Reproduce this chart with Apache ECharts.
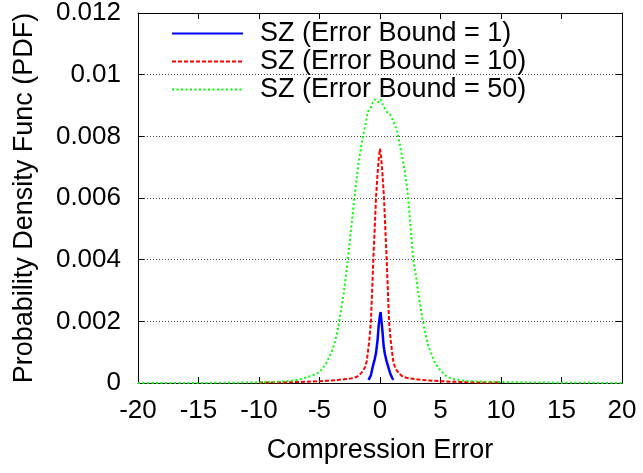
<!DOCTYPE html>
<html>
<head>
<meta charset="utf-8">
<script src="https://cdn.jsdelivr.net/npm/echarts@6/dist/echarts.min.js"></script>
<style>html,body{margin:0;padding:0;background:#fff}#c{width:643px;height:473px}</style>
</head>
<body>
<div id="c"></div>
<script>
var seriesNames = ['SZ (Error Bound = 1)', 'SZ (Error Bound = 10)', 'SZ (Error Bound = 50)'];
var xTickLabels = ['-20','-15','-10','-5','0','5','10','15','20'];
var yTickLabels = ['0','0.002','0.004','0.006','0.008','0.01','0.012'];

var blueX = [-0.95,-0.85,-0.75,-0.6,-0.45,-0.33,-0.2,-0.1,0,0.05,0.1,0.2,0.3,0.4,0.55,0.7,0.85,1.0,1.1];
var blueY = [0.0001,0.00016,0.00025,0.00053,0.00075,0.00097,0.0014,0.0019,0.0022,0.0023,0.0021,0.0017,0.0012,0.00095,0.0007,0.0005,0.0003,0.00017,0.0001];

var redX = [-10,-9,-8,-7,-6,-5,-4,-3.5,-3,-2.4,-1.9,-1.6,-1.4,-1.25,-1.1,-1.0,-0.88,-0.75,-0.65,-0.55,-0.44,-0.33,-0.2,-0.1,0,0.1,0.2,0.33,0.44,0.55,0.65,0.75,0.88,1.0,1.1,1.25,1.4,1.6,1.9,2.4,3,3.5,4,5,6,7,8,9,10];
var redY = [0.00001,0.00002,0.00002,0.00003,0.00004,0.00006,0.00008,0.0001,0.00012,0.00015,0.0002,0.0003,0.0004,0.0005,0.0007,0.001,0.0014,0.002,0.003,0.004,0.005,0.006,0.0068,0.0073,0.0076,0.0073,0.0068,0.006,0.005,0.004,0.003,0.002,0.0014,0.001,0.0007,0.0005,0.0004,0.0003,0.0002,0.00015,0.00012,0.0001,0.00008,0.00006,0.00004,0.00003,0.00002,0.00002,0.00001];

var greenX = [-20,-15,-12,-10,-9,-8,-7,-6.5,-6,-5.5,-5,-4.5,-4,-3.75,-3.5,-3.25,-3,-2.75,-2.5,-2.25,-2,-1.75,-1.5,-1.25,-1,-0.8,-0.6,-0.4,-0.15,0.05,0.25,0.55,0.85,1.1,1.4,1.6,1.8,2,2.25,2.5,2.75,3,3.25,3.5,3.75,4,4.5,5,5.5,6,7,8,9,10,12,15,20];
var greenY = [0,0,0.00001,0.00002,0.00003,0.00005,0.00009,0.00013,0.00019,0.00026,0.00035,0.0006,0.001,0.0013,0.0017,0.0023,0.0029,0.0037,0.0046,0.0055,0.0064,0.0072,0.0078,0.0083,0.0088,0.0089,0.0091,0.0092,0.0091,0.0092,0.009,0.0088,0.0087,0.0085,0.0082,0.0078,0.0074,0.007,0.0063,0.0052,0.004,0.0034,0.0027,0.0021,0.0016,0.0012,0.00068,0.0004,0.00022,0.00013,0.00007,0.00005,0.00004,0.00003,0.00002,0.00001,0];

function pairs(xs, ys){ return xs.map(function(x,i){ return [x, ys[i]]; }); }

var FONT = 'Liberation Sans';
var chart = echarts.init(document.getElementById('c'), null, {renderer:'canvas'});
var axisLineStyle = {onZero:false, lineStyle:{color:'#000', width:1}};
var tickStyle = {show:true, inside:true, length:6, lineStyle:{color:'#000', width:1}};

chart.setOption({
  animation:false,
  backgroundColor:'#fff',
  textStyle:{fontFamily:FONT},
  grid:{left:138, right:21, top:13, bottom:90, containLabel:false},
  legend:{
    orient:'vertical', left:171, top:20, padding:0, itemWidth:71, itemHeight:14, itemGap:1,
    selectedMode:false,
    itemStyle:{opacity:0},
    textStyle:{fontSize:27, lineHeight:26, color:'#000', fontFamily:FONT, padding:[0,0,0,12]},
    data:seriesNames
  },
  xAxis:[{
    type:'value', min:-20, max:20, interval:5, position:'bottom',
    axisLine:axisLineStyle, axisTick:tickStyle, splitLine:{show:false},
    axisLabel:{fontSize:26, color:'#000', margin:15, fontFamily:FONT,
      formatter:function(v){ return xTickLabels[Math.round((v+20)/5)]; }},
    name:'Compression Error', nameLocation:'middle', nameGap:54,
    nameTextStyle:{fontSize:27, color:'#000', fontFamily:FONT}
  },{
    type:'value', min:-20, max:20, interval:5, position:'top',
    axisLine:axisLineStyle, axisTick:tickStyle, splitLine:{show:false}, axisLabel:{show:false}
  }],
  yAxis:[{
    type:'value', min:0, max:0.012, interval:0.002, position:'left',
    axisLine:axisLineStyle, axisTick:tickStyle,
    splitLine:{show:true, lineStyle:{color:'#444', width:1, type:[1,2]}},
    axisLabel:{fontSize:26, color:'#000', margin:17, fontFamily:FONT,
      formatter:function(v){ return yTickLabels[Math.round(v/0.002)]; }},
    name:'Probability Density Func (PDF)', nameLocation:'middle', nameGap:100,
    nameTextStyle:{fontSize:27, color:'#000', fontFamily:FONT}
  },{
    type:'value', min:0, max:0.012, interval:0.002, position:'right',
    axisLine:axisLineStyle, axisTick:tickStyle, splitLine:{show:false}, axisLabel:{show:false}
  }],
  series:[{
    name:seriesNames[0], type:'line', xAxisIndex:0, yAxisIndex:0, symbol:'none',
    data:pairs(blueX, blueY), lineStyle:{color:'#0000ff', width:2.5, type:'solid'}, itemStyle:{color:'#0000ff'}
  },{
    name:seriesNames[1], type:'line', xAxisIndex:0, yAxisIndex:0, symbol:'none',
    data:pairs(redX, redY), lineStyle:{color:'#ff0000', width:2, type:[4,2]}, itemStyle:{color:'#ff0000'}
  },{
    name:seriesNames[2], type:'line', xAxisIndex:0, yAxisIndex:0, symbol:'none',
    data:pairs(greenX, greenY), lineStyle:{color:'#00ff00', width:2, type:[2,2.5]}, itemStyle:{color:'#00ff00'}
  }]
});
</script>
</body>
</html>
